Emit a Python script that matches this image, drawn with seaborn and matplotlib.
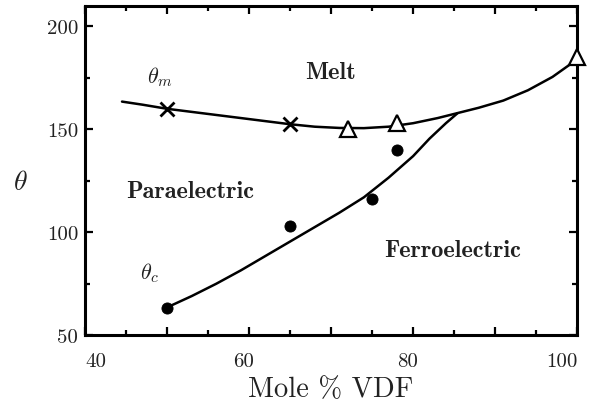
"""Phase diagram of VDF copolymer: melting and Curie temperatures."""

import matplotlib
import matplotlib.pyplot as plt
import matplotlib.transforms as mtransforms
import pandas as pd
import seaborn as sns

matplotlib.use("Agg")

# measured points
melt_x_cross = [50, 65]
melt_y_cross = [160, 152.5]
melt_x_tri = [72, 78, 100]
melt_y_tri = [150.3, 153, 185]
curie_x = [50, 65, 75, 78]
curie_y = [63, 103, 116, 140]

# hand-drawn guide curves
melt_curve_x = [44.5, 47, 50, 53, 56, 59, 62, 65, 68, 71, 74, 77, 80, 83, 85,
                88, 91, 94, 97, 100]
melt_curve_y = [163.5, 162, 160, 158.5, 157, 155.5, 154, 152.5, 151.3, 150.7,
                150.6, 151.3, 153, 155.5, 157.5, 160.5, 164, 169, 175.5, 184]
curie_curve_x = [50, 53, 56, 59, 62, 65, 68, 71, 74, 77, 80, 82, 84, 85.4]
curie_curve_y = [63.5, 69, 75, 81.5, 88.5, 95.5, 102.5, 109.5, 117, 126.5, 137,
                 145.5, 153, 157.8]

x_ticks = [40, 50, 60, 70, 80, 90, 100]
x_tick_labels = ["40", "", "60", "", "80", "", "100"]
y_ticks = [50, 100, 150, 200]
y_tick_labels = ["50", "100", "150", "200"]

sns.set_style("ticks")
plt.rcParams["mathtext.fontset"] = "cm"
plt.rcParams["font.family"] = ["cmr10", "DejaVu Serif"]

fig = plt.figure(figsize=(5.91, 4.06), dpi=100)
ax = fig.add_axes([0.144, 0.172, 0.8325, 0.811])

ink = "#222222"

melt_df = pd.DataFrame({"x": melt_curve_x, "y": melt_curve_y})
curie_df = pd.DataFrame({"x": curie_curve_x, "y": curie_curve_y})
sns.lineplot(data=melt_df, x="x", y="y", sort=False, color="black", lw=1.8, ax=ax)
sns.lineplot(data=curie_df, x="x", y="y", sort=False, color="black", lw=1.8, ax=ax)

ax.plot(melt_x_cross, melt_y_cross, ls="none", marker="x", ms=9.5, mew=2,
        color="black", clip_on=False, zorder=5)
ax.plot(melt_x_tri, melt_y_tri, ls="none", marker="^", ms=12, mew=1.6,
        mfc="white", mec="black", clip_on=False, zorder=5)
sns.scatterplot(x=curie_x, y=curie_y, s=64, color="black", edgecolor="black",
                zorder=5, ax=ax, clip_on=False)

ax.set_xlim(40, 100)
ax.set_ylim(50, 210)

ax.set_xticks(x_ticks)
ax.set_xticklabels(x_tick_labels)
ax.set_xticks([45, 55, 65, 75, 85, 95], minor=True)
ax.set_yticks(y_ticks)
ax.set_yticklabels(y_tick_labels)
ax.set_yticks([75, 125, 175], minor=True)

ax.tick_params(which="both", direction="in", top=True, right=True,
               width=1.6, color="black", labelsize=15, labelcolor=ink)
ax.tick_params(which="major", length=6)
ax.tick_params(which="minor", length=3.5)
ax.tick_params(axis="x", pad=12)
ax.tick_params(axis="y", pad=5)

# edge labels sit inside the frame, the middle ones slightly left of their ticks
xlabels = ax.get_xticklabels()
xlabels[0].set_ha("left")
xlabels[-1].set_ha("right")
shift = mtransforms.ScaledTranslation(-6 / 100, 0, fig.dpi_scale_trans)
for lab in xlabels[1:-1]:
    lab.set_transform(lab.get_transform() + shift)

for spine in ax.spines.values():
    spine.set_linewidth(2.2)
    spine.set_color("black")

ax.set_xlabel("Mole % VDF", fontsize=20.5, color=ink, labelpad=4)
ax.set_ylabel(r"$\theta$", fontsize=20, color=ink, rotation=0, va="center")
ax.yaxis.set_label_coords(-0.132, 0.465)

bold = {"family": "cmb10", "fontsize": 17.5, "color": ink}
ax.text(69.9, 178, "Melt", ha="center", va="center", **bold)
ax.text(52.8, 120, "Paraelectric", ha="center", va="center", **bold)
ax.text(84.8, 91.3, "Ferroelectric", ha="center", va="center", **bold)
ax.text(49.1, 176, r"$\theta_m$", fontsize=16, color=ink, ha="center", va="center")
ax.text(47.9, 80.6, r"$\theta_c$", fontsize=16, color=ink, ha="center", va="center")

fig.savefig("out.png", dpi=100, facecolor="white")
